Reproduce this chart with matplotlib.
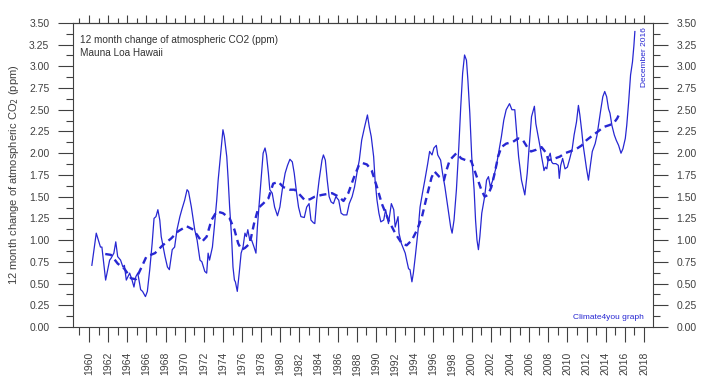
import numpy as np
import matplotlib
matplotlib.use('Agg')
import matplotlib.pyplot as plt
from matplotlib.ticker import MultipleLocator

plt.rcParams['font.family'] = ['Liberation Sans', 'DejaVu Sans']

# monthly 12-month change
yr = [1960.3, 1960.76, 1961.2, 1961.35, 1961.74, 1962.16, 1962.3, 1962.6, 1962.8, 1963.0,
      1963.3, 1963.55, 1963.7, 1963.9, 1964.25, 1964.5, 1964.7, 1964.9, 1965.1, 1965.4,
      1965.6, 1965.9, 1966.1, 1966.35, 1966.6, 1966.8, 1967.0, 1967.2, 1967.4, 1967.55,
      1967.8, 1967.95, 1968.2, 1968.4, 1968.7, 1968.95, 1969.2, 1969.5, 1969.7, 1970.0,
      1970.25, 1970.4, 1970.7, 1971.05, 1971.3, 1971.6, 1971.8, 1972.1, 1972.3, 1972.45,
      1972.6, 1972.9, 1973.1, 1973.35, 1973.5, 1973.7, 1974.0, 1974.15, 1974.4, 1974.55,
      1974.7, 1974.9, 1975.05, 1975.2, 1975.3, 1975.5, 1975.7, 1975.9, 1976.1, 1976.3,
      1976.45, 1976.6, 1976.8, 1977.0, 1977.25, 1977.45, 1977.6, 1977.85, 1978.05, 1978.2,
      1978.4, 1978.55, 1978.75, 1978.9, 1979.15, 1979.4, 1979.7, 1979.95, 1980.2, 1980.5,
      1980.75, 1981.0, 1981.25, 1981.45, 1981.7, 1981.9, 1982.15, 1982.5, 1982.75, 1983.0,
      1983.2, 1983.45, 1983.6, 1983.8, 1984.05, 1984.35, 1984.5, 1984.7, 1984.9, 1985.1,
      1985.3, 1985.55, 1985.8, 1986.1, 1986.35, 1986.6, 1986.95, 1987.2, 1987.5, 1987.75,
      1988.0, 1988.25, 1988.5, 1988.8, 1989.1, 1989.3, 1989.5, 1989.75, 1989.9, 1990.1,
      1990.3, 1990.5, 1990.8, 1991.0, 1991.3, 1991.6, 1991.85, 1992.0, 1992.3, 1992.4,
      1992.65, 1992.9, 1993.05, 1993.2, 1993.4, 1993.55, 1993.75, 1993.9, 1994.1, 1994.4,
      1994.6, 1994.85, 1995.1, 1995.4, 1995.6, 1995.85, 1996.05, 1996.3, 1996.45, 1996.75,
      1996.95, 1997.2, 1997.45, 1997.6, 1997.8, 1997.95, 1998.15, 1998.4, 1998.65, 1998.85,
      1999.05, 1999.25, 1999.45, 1999.6, 1999.8, 2000.0, 2000.25, 2000.4, 2000.55, 2000.7,
      2000.85, 2001.05, 2001.35, 2001.55, 2001.75, 2001.95, 2002.2, 2002.55, 2002.8, 2003.1,
      2003.35, 2003.6, 2003.95, 2004.2, 2004.5, 2004.65, 2004.9, 2005.2, 2005.55, 2005.8,
      2006.0, 2006.25, 2006.55, 2006.7, 2006.95, 2007.15, 2007.3, 2007.5, 2007.55, 2007.7,
      2007.85, 2008.0, 2008.2, 2008.35, 2008.5, 2008.8, 2009.05, 2009.15, 2009.3, 2009.5,
      2009.75, 2010.0, 2010.25, 2010.5, 2010.7, 2010.95, 2011.15, 2011.3, 2011.5, 2011.65,
      2011.85, 2012.0, 2012.2, 2012.4, 2012.6, 2012.9, 2013.1, 2013.35, 2013.5, 2013.7,
      2013.9, 2014.1, 2014.3, 2014.45, 2014.65, 2014.9, 2015.1, 2015.35, 2015.6, 2015.8,
      2016.05, 2016.2, 2016.4, 2016.6, 2016.8, 2016.95, 2017.05]
co2 = [0.71, 1.08, 0.92, 0.92, 0.54, 0.77, 0.79, 0.85, 0.98, 0.81,
       0.77, 0.69, 0.71, 0.54, 0.62, 0.54, 0.46, 0.58, 0.62, 0.43,
       0.41, 0.35, 0.41, 0.66, 0.96, 1.25, 1.27, 1.35, 1.23, 1.04,
       0.90, 0.81, 0.69, 0.66, 0.89, 0.92, 1.12, 1.27, 1.35, 1.46,
       1.58, 1.56, 1.38, 1.12, 1.00, 0.77, 0.75, 0.64, 0.62, 0.85,
       0.77, 0.92, 1.15, 1.46, 1.69, 1.92, 2.27, 2.19, 1.96, 1.69,
       1.38, 1.04, 0.69, 0.54, 0.52, 0.41, 0.62, 0.85, 0.92, 1.08,
       1.04, 1.12, 1.00, 1.00, 0.92, 0.85, 1.15, 1.50, 1.77, 2.00,
       2.06, 1.98, 1.77, 1.58, 1.54, 1.38, 1.28, 1.38, 1.58, 1.77,
       1.86, 1.93, 1.90, 1.77, 1.54, 1.38, 1.27, 1.26, 1.38, 1.42,
       1.23, 1.20, 1.19, 1.46, 1.69, 1.92, 1.98, 1.92, 1.69, 1.50,
       1.44, 1.42, 1.50, 1.46, 1.31, 1.29, 1.29, 1.42, 1.50, 1.61,
       1.77, 1.92, 2.15, 2.30, 2.44, 2.30, 2.19, 1.96, 1.69, 1.46,
       1.31, 1.21, 1.23, 1.35, 1.19, 1.42, 1.35, 1.15, 1.27, 1.08,
       0.96, 0.89, 0.85, 0.77, 0.67, 0.66, 0.52, 0.62, 0.81, 1.12,
       1.38, 1.54, 1.69, 1.88, 2.02, 1.98, 2.06, 2.09, 1.98, 1.92,
       1.77, 1.61, 1.42, 1.31, 1.15, 1.08, 1.23, 1.58, 2.07, 2.53,
       2.92, 3.13, 3.07, 2.84, 2.46, 1.96, 1.58, 1.23, 1.00, 0.89,
       1.04, 1.31, 1.50, 1.69, 1.73, 1.61, 1.69, 1.84, 2.00, 2.19,
       2.38, 2.50, 2.57, 2.50, 2.50, 2.30, 1.96, 1.69, 1.52, 1.77,
       2.07, 2.42, 2.54, 2.34, 2.19, 2.07, 1.96, 1.84, 1.80, 1.84,
       1.82, 1.94, 2.00, 1.90, 1.88, 1.88, 1.86, 1.71, 1.86, 1.94,
       1.82, 1.84, 1.94, 2.05, 2.21, 2.36, 2.55, 2.44, 2.25, 2.09,
       1.94, 1.82, 1.69, 1.86, 2.02, 2.11, 2.21, 2.40, 2.51, 2.65,
       2.71, 2.65, 2.51, 2.46, 2.32, 2.21, 2.15, 2.09, 2.00, 2.05,
       2.17, 2.32, 2.59, 2.90, 3.05, 3.24, 3.40]

# running average (dashed)
avg_yr = [1961.7, 1962.3, 1963.0, 1963.7, 1964.4, 1964.9, 1965.5, 1966.0, 1966.9, 1967.7,
          1968.6, 1969.3, 1970.2, 1970.9, 1971.3, 1971.8, 1972.3, 1972.8, 1973.35, 1974.0,
          1974.7, 1975.2, 1975.6, 1975.95, 1976.3, 1976.8, 1977.25, 1977.7, 1978.2, 1978.75,
          1979.25, 1979.8, 1980.3, 1981.0, 1981.5, 1982.05, 1982.55, 1983.1, 1983.6, 1984.35,
          1985.4, 1986.1, 1986.6, 1987.1, 1987.65, 1988.2, 1988.5, 1989.05, 1989.55, 1990.1,
          1990.6, 1991.3, 1992.0, 1992.7, 1993.2, 1993.75, 1994.3, 1994.8, 1995.3, 1995.8,
          1996.1, 1996.6, 1997.1, 1997.35, 1997.7, 1998.4, 1998.9, 1999.6, 1999.95, 2000.3,
          2000.65, 2001.0, 2001.35, 2001.7, 2002.05, 2002.4, 2002.75, 2003.1, 2003.6, 2004.3,
          2004.85, 2005.35, 2005.8, 2006.2, 2006.75, 2007.3, 2007.8, 2008.0, 2008.7, 2009.2,
          2009.75, 2010.25, 2010.95, 2011.5, 2012.0, 2012.7, 2013.2, 2013.75, 2014.3, 2014.8,
          2015.2, 2015.5]
avg_co2 = [0.84, 0.83, 0.73, 0.67, 0.56, 0.55, 0.69, 0.81, 0.85, 0.94,
           1.02, 1.10, 1.16, 1.12, 1.06, 0.98, 1.04, 1.23, 1.33, 1.31,
           1.25, 1.12, 0.96, 0.89, 0.91, 0.96, 1.19, 1.37, 1.42, 1.48,
           1.65, 1.67, 1.61, 1.58, 1.58, 1.52, 1.46, 1.47, 1.50, 1.52,
           1.54, 1.50, 1.45, 1.54, 1.71, 1.86, 1.89, 1.87, 1.80, 1.61,
           1.42, 1.23, 1.08, 0.96, 0.94, 1.00, 1.12, 1.27, 1.50, 1.72,
           1.79, 1.73, 1.69, 1.80, 1.92, 2.00, 1.94, 1.91, 1.91, 1.80,
           1.69, 1.58, 1.50, 1.52, 1.61, 1.77, 1.96, 2.07, 2.11, 2.13,
           2.17, 2.15, 2.07, 2.02, 2.04, 2.07, 2.00, 1.92, 1.94, 1.96,
           2.00, 2.02, 2.05, 2.09, 2.15, 2.21, 2.25, 2.30, 2.32, 2.34,
           2.40, 2.47]

year_ticks = list(range(1960, 2019, 2))

blue = '#2727d2'
grey = '#404040'

fig = plt.figure(figsize=(7.06, 3.87), dpi=100)
ax = fig.add_axes([0.1034, 0.155, 0.8216, 0.786])

ax.plot(yr, co2, color=blue, lw=0.9)
ax.plot(avg_yr, avg_co2, color=blue, lw=1.7, linestyle=(0, (3, 2)))

ax.set_xlim(1958.33, 2018.95)
ax.set_ylim(0, 3.5)

ax.yaxis.set_major_locator(MultipleLocator(0.25))
ax.yaxis.set_minor_locator(MultipleLocator(0.125))
ax.yaxis.set_major_formatter(plt.FormatStrFormatter('%.2f'))
ax.set_xticks(year_ticks)
ax.xaxis.set_minor_locator(MultipleLocator(1))

ax.tick_params(axis='y', which='both', left=True, right=True, labelleft=True, labelright=True,
               direction='out', labelsize=7.5, labelcolor=grey, color=grey, pad=6)
ax.tick_params(axis='y', which='major', length=11, width=0.8)
ax.tick_params(axis='y', which='minor', length=5, width=0.8)
ax.tick_params(axis='x', which='both', bottom=True, top=False, direction='out',
               labelsize=7.5, labelcolor=grey, color=grey, labelrotation=90, pad=7)
ax.tick_params(axis='x', which='major', length=11, width=0.8)
ax.tick_params(axis='x', which='minor', length=6, width=0.8)

top = ax.secondary_xaxis('top')
top.set_xticks(year_ticks)
top.xaxis.set_minor_locator(MultipleLocator(1))
top.tick_params(axis='x', which='both', direction='out', labeltop=False, color=grey, width=0.8)
top.tick_params(axis='x', which='major', length=6)
top.tick_params(axis='x', which='minor', length=3.5)

for s in ax.spines.values():
    s.set_color(grey)
    s.set_linewidth(0.8)
top.spines['top'].set_color(grey)
top.spines['top'].set_linewidth(0.8)

ax.set_ylabel('12 month change of atmospheric CO$_2$ (ppm)', fontsize=8, color=grey, labelpad=6)

ax.text(0.012, 0.945, '12 month change of atmospheric CO2 (ppm)', transform=ax.transAxes,
        fontsize=7.2, color='#333333', va='center')
ax.text(0.012, 0.9, 'Mauna Loa Hawaii', transform=ax.transAxes,
        fontsize=7.2, color='#333333', va='center')
ax.text(0.985, 0.985, 'December 2016', transform=ax.transAxes, rotation=90,
        fontsize=6, color=blue, ha='center', va='top')
ax.text(0.985, 0.02, 'Climate4you graph', transform=ax.transAxes,
        fontsize=6, color=blue, ha='right', va='bottom')

fig.savefig('out.png', dpi=100)
